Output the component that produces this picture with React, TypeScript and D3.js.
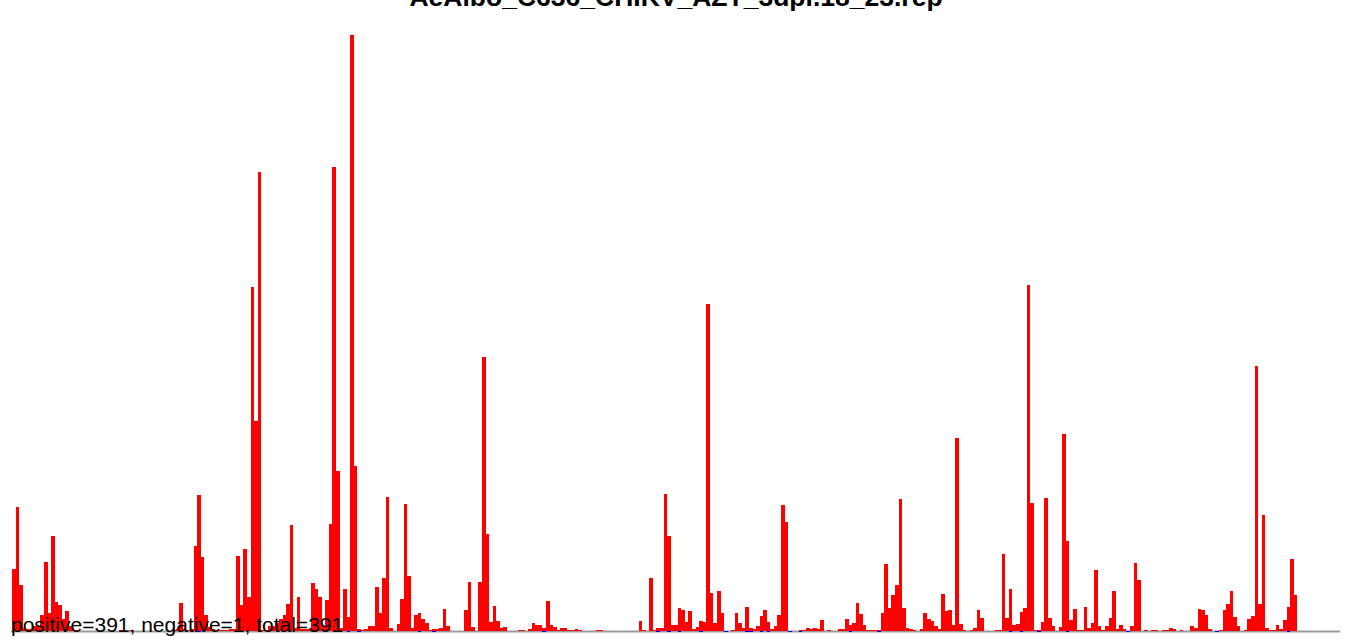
import React from "react";
import * as d3 from "d3";

const TITLE = "AeAlbo_C636_CHIKV_AZT_3dpi.18_23.rep";
const FOOTER = "positive=391, negative=1, total=391";

// positive-strand coverage per position (left to right)
const positiveValues: number[] = [
  62, 124, 46, 3, 2, 2, 5, 5, 16, 69,
  18, 95, 29, 26, 12, 20, 5, 1, 1, 0,
  0, 0, 0, 0, 0, 0, 0, 0, 0, 0,
  1, 1, 0, 1, 0, 0, 0, 0, 0, 0,
  0, 0, 0, 0, 0, 1, 2, 28, 2, 1,
  2, 85, 136, 74, 16, 4, 2, 1, 1, 1,
  1, 2, 2, 75, 26, 82, 34, 344, 210, 459,
  1, 1, 5, 5, 8, 12, 16, 27, 106, 3,
  34, 2, 2, 2, 48, 42, 34, 5, 31, 107,
  464, 160, 3, 42, 14, 596, 165, 2, 1, 2,
  5, 5, 44, 18, 53, 134, 3, 0, 7, 32,
  127, 55, 3, 16, 18, 12, 8, 1, 2, 2,
  3, 22, 5, 0, 0, 0, 0, 21, 49, 4,
  0, 49, 274, 97, 9, 25, 10, 3, 4, 0,
  0, 0, 1, 1, 0, 2, 8, 6, 6, 3,
  30, 6, 4, 1, 3, 3, 1, 1, 2, 1,
  0, 0, 0, 0, 1, 1, 0, 0, 0, 0,
  0, 0, 0, 0, 0, 0, 10, 1, 0, 53,
  1, 3, 3, 137, 95, 6, 6, 23, 21, 9,
  20, 2, 4, 10, 9, 327, 38, 8, 40, 18,
  0, 0, 1, 18, 8, 3, 24, 3, 2, 5,
  15, 21, 9, 2, 5, 16, 126, 109, 0, 0,
  0, 1, 1, 3, 2, 3, 2, 11, 0, 1,
  0, 0, 2, 2, 12, 6, 8, 28, 17, 6,
  1, 1, 1, 1, 18, 67, 23, 36, 46, 132,
  23, 3, 2, 1, 0, 2, 18, 12, 10, 5,
  2, 37, 20, 21, 6, 193, 7, 1, 0, 1,
  3, 21, 13, 0, 0, 0, 1, 1, 77, 13,
  42, 6, 7, 19, 23, 346, 128, 1, 1, 9,
  133, 13, 5, 0, 4, 197, 90, 11, 22, 1,
  1, 24, 3, 8, 61, 5, 1, 5, 13, 40,
  2, 6, 2, 0, 5, 68, 51, 0, 1, 0,
  1, 1, 0, 1, 1, 3, 2, 0, 1, 0,
  0, 5, 3, 22, 21, 16, 2, 0, 0, 1,
  21, 27, 40, 14, 5, 0, 1, 12, 15, 265,
  27, 116, 3, 1, 1, 6, 2, 11, 24, 72,
  36, 0, 0, 0, 0, 0, 0, 0, 0, 0,
  0, 0, 0,
];

// negative-strand marks (position index, magnitude)
const negativePositions: number[] = [
  52, 69, 94, 97, 114, 118, 149, 181, 184, 187, 193, 200, 206, 207,
  210, 212, 218, 221, 235, 243, 280, 283, 288, 296, 313, 338, 358,
];
const negativeValues: number[] = [
  1, 1, 1, 1, 1, 1, 1, 1, 1, 1, 1, 1, 1, 1,
  1, 1, 1, 1, 1, 1, 1, 1, 1, 1, 1, 1, 1,
];

const W = 1352;
const H = 641;

export default function App() {
  const x = d3
    .scaleBand<number>()
    .domain(d3.range(positiveValues.length))
    .range([12, 1340])
    .paddingInner(0)
    .paddingOuter(0);
  const yMax = d3.max(positiveValues) as number;
  const y = d3.scaleLinear().domain([-yMax, yMax]).range([631 + 596, 35]);
  const y0 = y(0);

  return (
    <div style={{ position: "absolute", left: 0, top: 0 }}>
      <svg width={W} height={H} style={{ display: "block" }}>
        <rect x={0} y={0} width={W} height={H} fill="#ffffff" />
        <line x1={11} x2={1340} y1={y0 + 0.5} y2={y0 + 0.5} stroke="#9a9a9a" strokeWidth={2} />
        <g shapeRendering="crispEdges">
          {positiveValues.map((v, i) =>
            v > 0 ? (
              <rect
                key={i}
                x={x(i) as number}
                width={x.bandwidth()}
                y={y(v)}
                height={y0 - y(v)}
                fill="#ff0000"
              />
            ) : null
          )}
          {negativePositions.map((p, j) => (
            <rect
              key={"n" + j}
              x={x(p) as number}
              width={x.bandwidth()}
              y={y0}
              height={y(-negativeValues[j]) - y0}
              fill="#0000ff"
            />
          ))}
        </g>
        <text
          x={676}
          y={6}
          textAnchor="middle"
          fontFamily="'Liberation Sans', Arial, Helvetica, sans-serif"
          fontWeight="bold"
          fontSize={26.5}
          fill="#000"
        >
          {TITLE}
        </text>
        <text
          x={11}
          y={632}
          fontFamily="'Liberation Sans', Arial, Helvetica, sans-serif"
          fontSize={21}
          fill="#000"
        >
          {FOOTER}
        </text>
      </svg>
    </div>
  );
}
